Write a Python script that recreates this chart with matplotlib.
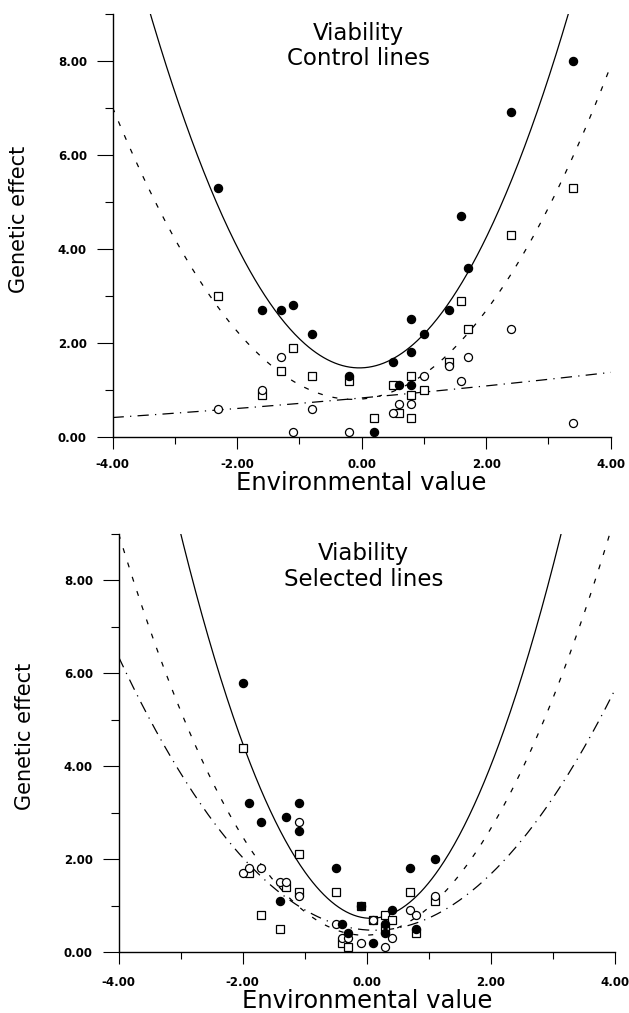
import numpy as np
import matplotlib
matplotlib.use("Agg")
import matplotlib.pyplot as plt
from matplotlib.ticker import MultipleLocator, FormatStrFormatter

plt.rcParams['font.family'] = ['DejaVu Sans']
plt.rcParams['axes.unicode_minus'] = False

# ---- data ----
# control lines
ctrl_filled_x = [-2.3, -1.6, -1.3, -1.1, -0.8, -0.2, 0.2, 0.5, 0.6, 0.8, 0.8, 0.8, 1.0, 1.4, 1.6, 1.7, 2.4, 3.4]
ctrl_filled_y = [5.3, 2.7, 2.7, 2.8, 2.2, 1.3, 0.1, 1.6, 1.1, 2.5, 1.8, 1.1, 2.2, 2.7, 4.7, 3.6, 6.9, 8.0]
ctrl_square_x = [-2.3, -1.6, -1.3, -1.1, -0.8, -0.2, 0.2, 0.5, 0.6, 0.8, 0.8, 0.8, 1.0, 1.4, 1.6, 1.7, 2.4, 3.4]
ctrl_square_y = [3.0, 0.9, 1.4, 1.9, 1.3, 1.2, 0.4, 1.1, 0.5, 1.3, 0.9, 0.4, 1.0, 1.6, 2.9, 2.3, 4.3, 5.3]
ctrl_open_x = [-2.3, -1.6, -1.3, -1.1, -0.8, -0.2, 0.5, 0.6, 0.8, 1.0, 1.4, 1.6, 1.7, 2.4, 3.4]
ctrl_open_y = [0.6, 1.0, 1.7, 0.1, 0.6, 0.1, 0.5, 0.7, 0.7, 1.3, 1.5, 1.2, 1.7, 2.3, 0.3]

# selected lines
sel_filled_x = [-2.0, -1.9, -1.7, -1.4, -1.3, -1.1, -1.1, -0.5, -0.4, -0.3, -0.1, 0.1, 0.3, 0.3, 0.4, 0.7, 0.8, 1.1]
sel_filled_y = [5.8, 3.2, 2.8, 1.1, 2.9, 3.2, 2.6, 1.8, 0.6, 0.4, 1.0, 0.2, 0.6, 0.4, 0.9, 1.8, 0.5, 2.0]
sel_square_x = [-2.0, -1.9, -1.7, -1.4, -1.3, -1.1, -1.1, -0.5, -0.4, -0.3, -0.1, 0.1, 0.3, 0.3, 0.4, 0.7, 0.8, 1.1]
sel_square_y = [4.4, 1.7, 0.8, 0.5, 1.4, 2.1, 1.3, 1.3, 0.2, 0.1, 1.0, 0.7, 0.8, 0.5, 0.7, 1.3, 0.4, 1.1]
sel_open_x = [-2.0, -1.9, -1.7, -1.4, -1.3, -1.1, -1.1, -0.5, -0.4, -0.3, -0.1, 0.1, 0.3, 0.4, 0.7, 0.8, 1.1]
sel_open_y = [1.7, 1.8, 1.8, 1.5, 1.5, 2.8, 1.2, 0.6, 0.3, 0.3, 0.2, 0.7, 0.1, 0.3, 0.9, 0.8, 1.2]

# fitted quadratic curves, coefficients (a, b, c) for a + b*x + c*x^2
ctrl_fit_filled = [1.47, 0.05, 0.668]
ctrl_fit_square = [0.807, 0.111, 0.415]
ctrl_fit_open = [0.83, 0.12, 0.004]
sel_fit_filled = [0.73, -0.12, 0.88]
sel_fit_square = [0.363, 0.044, 0.551]
sel_fit_open = [0.475, -0.089, 0.345]

xticks = [-4, -2, 0, 2, 4]
yticks = [0, 2, 4, 6, 8]

fig = plt.figure(figsize=(6.29, 10.13), dpi=100)
ax1 = fig.add_axes([0.179, 0.5686, 0.792, 0.418])
ax2 = fig.add_axes([0.1887, 0.0602, 0.7886, 0.4126])

xs = np.linspace(-4, 4, 400)

def quad(c, x):
    return c[0] + c[1] * x + c[2] * x ** 2

def panel(ax, title, fx, fy, sx, sy, ox, oy, fits, styles, xpad, xlab_y):
    for c, ls in zip(fits, styles):
        ax.plot(xs, quad(c, xs), color='black', lw=0.9, linestyle=ls, zorder=2)
    ax.plot(fx, fy, 'o', color='black', ms=5.8, zorder=4)
    ax.plot(sx, sy, 's', mfc='white', mec='black', mew=0.9, ms=5.3, zorder=3)
    ax.plot(ox, oy, 'o', mfc='white', mec='black', mew=0.9, ms=5.8, zorder=3)

    ax.set_xlim(-4, 4)
    ax.set_ylim(0, 9)
    ax.spines['top'].set_visible(False)
    ax.spines['right'].set_visible(False)
    ax.spines['left'].set_bounds(0, 9)
    ax.spines['bottom'].set_bounds(-4, 4)
    for s in ['left', 'bottom']:
        ax.spines[s].set_linewidth(1.0)

    ax.set_xticks(xticks)
    ax.set_yticks(yticks)
    ax.xaxis.set_minor_locator(MultipleLocator(1))
    ax.yaxis.set_minor_locator(MultipleLocator(1))
    ax.xaxis.set_major_formatter(FormatStrFormatter('%.2f'))
    ax.yaxis.set_major_formatter(FormatStrFormatter('%.2f'))
    ax.tick_params(axis='y', which='major', length=11.5, width=0.8, pad=7)
    ax.tick_params(axis='y', which='minor', length=5.8, width=0.8)
    ax.tick_params(axis='x', which='major', length=8.6, width=0.8, pad=xpad)
    ax.tick_params(axis='x', which='minor', length=5, width=0.8)
    for lab in ax.get_xticklabels() + ax.get_yticklabels():
        lab.set_fontweight('bold')
        lab.set_fontsize(8.5)

    ax.text(-0.05, 8.82, title, ha='center', va='top', fontsize=16.5, linespacing=1.13)

    ax.set_xlabel('Environmental value', fontsize=17.5)
    ax.xaxis.label.set_va('center')
    ax.xaxis.set_label_coords(0.5, xlab_y)
    ax.set_ylabel('Genetic effect', fontsize=15)
    ax.yaxis.label.set_va('center')
    ax.yaxis.set_label_coords(-0.188, 0.515)

short_dash = (0, (4, 8))
dashdot = (0, (9, 5, 1, 5))
panel(ax1, 'Viability\nControl lines', ctrl_filled_x, ctrl_filled_y,
      ctrl_square_x, ctrl_square_y, ctrl_open_x, ctrl_open_y,
      [ctrl_fit_filled, ctrl_fit_square, ctrl_fit_open],
      ['-', short_dash, dashdot], 6.5, -0.108)
panel(ax2, 'Viability\nSelected lines', sel_filled_x, sel_filled_y,
      sel_square_x, sel_square_y, sel_open_x, sel_open_y,
      [sel_fit_filled, sel_fit_square, sel_fit_open],
      ['-', short_dash, dashdot], 9.0, -0.118)

fig.savefig('out.png', dpi=100)
